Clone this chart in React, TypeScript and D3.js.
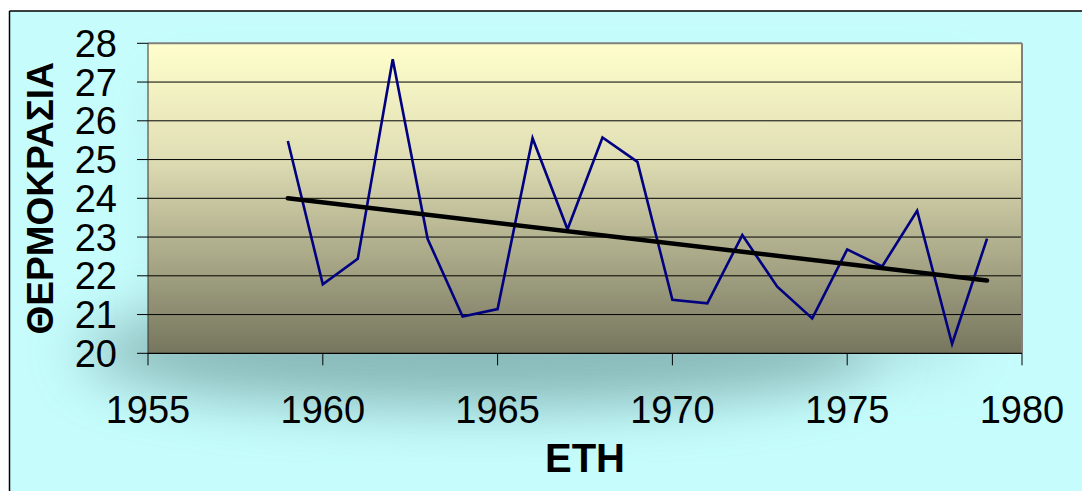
import React, { useEffect } from "react";
import * as d3 from "d3";

const years = [1959, 1960, 1961, 1962, 1963, 1964, 1965, 1966, 1967, 1968, 1969, 1970, 1971, 1972, 1973, 1974, 1975, 1976, 1977, 1978, 1979];
const temps = [25.48, 21.78, 22.44, 27.59, 22.95, 20.95, 21.14, 25.55, 23.2, 25.57, 24.94, 21.38, 21.29, 23.05, 21.72, 20.9, 22.68, 22.24, 23.68, 20.24, 22.96];
const xTicks = [1955, 1960, 1965, 1970, 1975, 1980];
const yTicks = [20, 21, 22, 23, 24, 25, 26, 27, 28];
const xTitle = "ΕΤΗ";
const yTitle = "ΘΕΡΜΟΚΡΑΣΙΑ";

const W = 1082, H = 491;
const plot = { left: 148, right: 1022, top: 43.3, bottom: 353.3 };

export default function App() {
  useEffect(() => {
    document.body.style.margin = "0";
  }, []);

  const x = d3.scaleLinear().domain([1955, 1980]).range([plot.left, plot.right]);
  const y = d3.scaleLinear().domain([20, 28]).range([plot.bottom, plot.top]);

  const pts: [number, number][] = years.map((yr, i) => [yr, temps[i]]);
  const line = d3.line<[number, number]>().x(d => x(d[0])).y(d => y(d[1]));

  // least-squares trend line
  const mx = d3.mean(years)!;
  const my = d3.mean(temps)!;
  let sxy = 0, sxx = 0;
  years.forEach((yr, i) => { sxy += (yr - mx) * (temps[i] - my); sxx += (yr - mx) ** 2; });
  const slope = sxy / sxx;
  const icpt = my - slope * mx;
  const trend: [number, number][] = [[years[0], icpt + slope * years[0]], [years[years.length - 1], icpt + slope * years[years.length - 1]]];

  const font = "Arial, 'Liberation Sans', sans-serif";
  const pw = plot.right - plot.left, ph = plot.bottom - plot.top;

  return (
    <svg width={W} height={H} style={{ position: "absolute", left: 0, top: 0, display: "block" }}>
      <defs>
        <linearGradient id="plotGrad" x1="0" y1="0" x2="0" y2="1">
          <stop offset="0%" stopColor="#FFFFCC" />
          <stop offset="35%" stopColor="#E2E0B6" />
          <stop offset="100%" stopColor="#76765E" />
        </linearGradient>
        <filter id="blur" x="-50%" y="-50%" width="200%" height="200%">
          <feGaussianBlur stdDeviation="28" />
        </filter>
        <clipPath id="frameClip">
          <rect x={9.5} y={11} width={W} height={H} />
        </clipPath>
      </defs>
      <rect x={0} y={0} width={W} height={H} fill="#ffffff" />
      <g clipPath="url(#frameClip)">
        <rect x={9.5} y={11} width={W} height={H} fill="#C6FCFC" />
        <ellipse cx={480} cy={352} rx={400} ry={55} fill="#6A9898" opacity={0.65} filter="url(#blur)" />
        <rect x={plot.left + 20} y={plot.top + 40} width={pw - 80} height={ph - 30} fill="#8AB8B8" opacity={0.35} filter="url(#blur)" />
      </g>
      <line x1={9.5} x2={W} y1={11} y2={11} stroke="#000" strokeWidth={1.5} />
      <line x1={9.5} x2={9.5} y1={11} y2={H} stroke="#000" strokeWidth={1.5} />

      <rect x={plot.left} y={plot.top} width={pw} height={ph} fill="url(#plotGrad)" />
      {yTicks.filter(t => t > 20 && t < 28).map(t => (
        <line key={t} x1={plot.left} x2={plot.right} y1={y(t)} y2={y(t)} stroke="#000" strokeWidth={1} />
      ))}
      <line x1={plot.left} x2={plot.right} y1={plot.top} y2={plot.top} stroke="#808080" strokeWidth={2} />
      <line x1={plot.right} x2={plot.right} y1={plot.top} y2={plot.bottom} stroke="#808080" strokeWidth={2} />
      <line x1={plot.left} x2={plot.left} y1={plot.top} y2={plot.bottom} stroke="#333" strokeWidth={1} />
      <line x1={plot.left} x2={plot.right} y1={plot.bottom} y2={plot.bottom} stroke="#000" strokeWidth={1.2} />

      {yTicks.map(t => (
        <g key={t}>
          <line x1={plot.left - 11} x2={plot.left} y1={y(t)} y2={y(t)} stroke="#000" strokeWidth={1} />
          <text x={117} y={y(t) + 13.5} textAnchor="end" fontFamily={font} fontSize={38} fill="#000">{t}</text>
        </g>
      ))}
      {xTicks.map(t => (
        <g key={t}>
          <line x1={x(t)} x2={x(t)} y1={plot.bottom} y2={plot.bottom + 12} stroke="#000" strokeWidth={1} />
          <text x={x(t)} y={423} textAnchor="middle" fontFamily={font} fontSize={38} fill="#000">{t}</text>
        </g>
      ))}

      <path d={line(pts)!} fill="none" stroke="#000080" strokeWidth={2.6} strokeLinejoin="miter" />
      <path d={line(trend)!} fill="none" stroke="#000" strokeWidth={4.5} strokeLinecap="round" />

      <text x={(plot.left + plot.right) / 2} y={472} textAnchor="middle" fontFamily={font} fontWeight="bold" fontSize={40} fill="#000">{xTitle}</text>
      <text transform={`translate(53,${(plot.top + plot.bottom) / 2}) rotate(-90)`} textAnchor="middle" fontFamily={font} fontWeight="bold" fontSize={37} fill="#000">{yTitle}</text>
    </svg>
  );
}
